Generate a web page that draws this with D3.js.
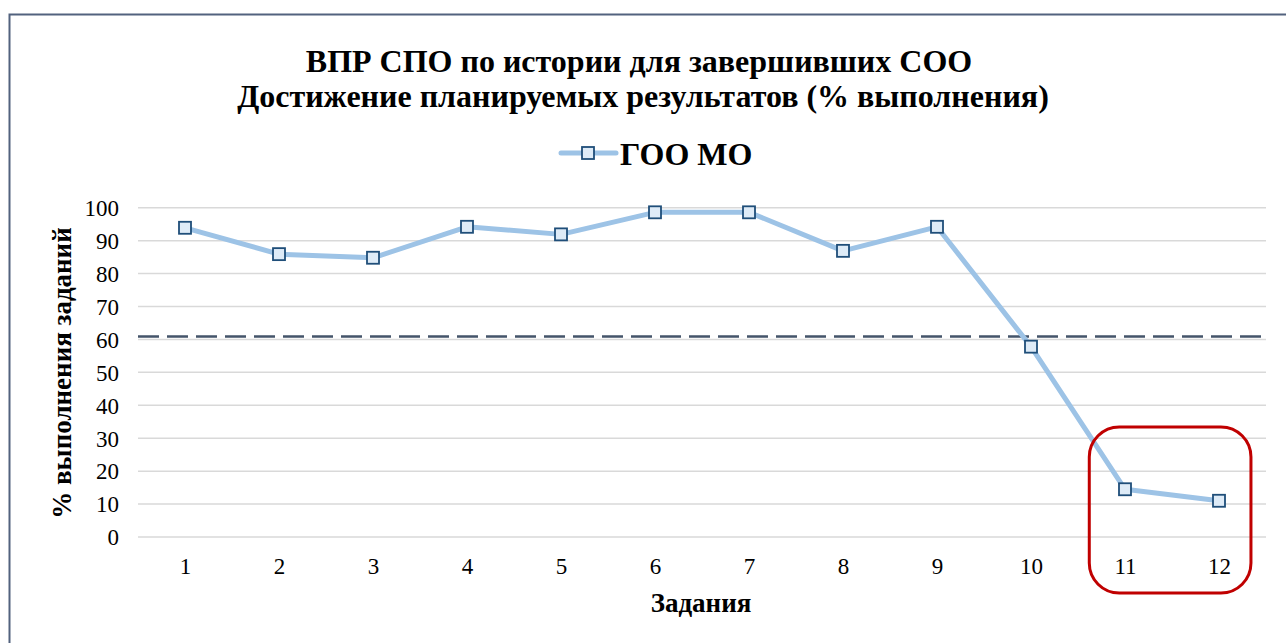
<!DOCTYPE html>
<html><head><meta charset="utf-8">
<script src="https://cdn.jsdelivr.net/npm/d3@7"></script>
<style>html,body{margin:0;padding:0;background:#fff;}svg{display:block;} svg text{font-family:"Liberation Serif","Times New Roman","DejaVu Serif",serif;}</style>
</head><body>
<svg id="c" width="1286" height="643"></svg>
<script>
const titleLines = ["ВПР СПО по истории для завершивших СОО", "Достижение планируемых результатов (% выполнения)"];
const seriesName = "ГОО МО";
const categories = ["1","2","3","4","5","6","7","8","9","10","11","12"];
const values = [93.9, 85.9, 84.8, 94.2, 91.9, 98.6, 98.6, 86.9, 94.2, 57.8, 14.5, 11.0];
const referenceValue = 60.9;
const yTicks = [0,10,20,30,40,50,60,70,80,90,100];
const highlighted = ["11","12"];
const xTitle = "Задания";
const yTitle = "% выполнения заданий";

const svg = d3.select("#c");
const L = 138, R = 1266, T = 207.7, B = 537;

svg.append("path").attr("d", `M9.5,700 L9.5,14.5 L1300,14.5`).attr("fill","none").attr("stroke","#52627E").attr("stroke-width",2);

const x = d3.scalePoint().domain(categories).range([L, R]).padding(0.5);
const y = d3.scaleLinear().domain([0,100]).range([B, T]);

svg.append("g").selectAll("line").data(yTicks).join("line")
  .attr("x1", L).attr("x2", R).attr("y1", d=>y(d)).attr("y2", d=>y(d))
  .attr("stroke","#D9D9D9").attr("stroke-width",1.5);

const yAxis = d3.axisLeft(y).tickValues(yTicks).tickSize(0).tickPadding(0);
const gy = svg.append("g").attr("transform",`translate(119,0)`).call(yAxis);
gy.select(".domain").remove();
gy.attr("font-family",null).attr("font-size",null);
gy.selectAll("text").style("font-size","23px").attr("fill","#000").attr("dy","0.34em");

const xAxis = d3.axisBottom(x).tickSize(0).tickPadding(0);
const gx = svg.append("g").attr("transform",`translate(0,558)`).call(xAxis);
gx.select(".domain").remove();
gx.attr("font-family",null).attr("font-size",null);
gx.selectAll("text").style("font-size","23px").attr("fill","#000").attr("dy","0.71em");

svg.append("line").attr("x1",L).attr("x2",R+2).attr("y1",y(referenceValue)).attr("y2",y(referenceValue))
  .attr("stroke","#44546A").attr("stroke-width",2.5).attr("stroke-dasharray","21,8");

const pts = categories.map((c,i)=>[x(c), y(values[i])]);
svg.append("path").attr("d", d3.line()(pts)).attr("fill","none")
  .attr("stroke","#9DC3E6").attr("stroke-width",5).attr("stroke-linejoin","round").attr("stroke-linecap","round");

const ms = 12;
svg.append("g").selectAll("rect").data(pts).join("rect")
  .attr("x", d=>d[0]-ms/2).attr("y", d=>d[1]-ms/2).attr("width",ms).attr("height",ms)
  .attr("fill","#DEEBF7").attr("stroke","#1F4E79").attr("stroke-width",1.8);

const step = x.step();
const hx0 = x(highlighted[0]) - step*0.38, hx1 = x(highlighted[highlighted.length-1]) + step*0.34;
svg.append("rect").attr("x",hx0).attr("y",427).attr("width",hx1-hx0).attr("height",166)
  .attr("rx",30).attr("ry",30).attr("fill","none").attr("stroke","#C00000").attr("stroke-width",3);

svg.append("text").attr("x",639).attr("y",72).attr("text-anchor","middle")
  .style("font-weight","bold").style("font-size","32px").text(titleLines[0]);
svg.append("text").attr("x",643).attr("y",107).attr("text-anchor","middle")
  .style("font-weight","bold").style("font-size","32px").text(titleLines[1]);

svg.append("line").attr("x1",561).attr("x2",616).attr("y1",153).attr("y2",153)
  .attr("stroke","#9DC3E6").attr("stroke-width",5).attr("stroke-linecap","round");
svg.append("rect").attr("x",588-ms/2).attr("y",153-ms/2).attr("width",ms).attr("height",ms)
  .attr("fill","#DEEBF7").attr("stroke","#1F4E79").attr("stroke-width",1.8);
svg.append("text").attr("x",620).attr("y",165).style("font-weight","bold")
  .style("font-size","32px").text(seriesName);

svg.append("text").attr("x",701).attr("y",612).attr("text-anchor","middle")
  .style("font-weight","bold").style("font-size","27px").text(xTitle);
svg.append("text").attr("transform","translate(71,373) rotate(-90)").attr("text-anchor","middle")
  .style("font-weight","bold").style("font-size","27px").text(yTitle);
</script>
</body></html>
